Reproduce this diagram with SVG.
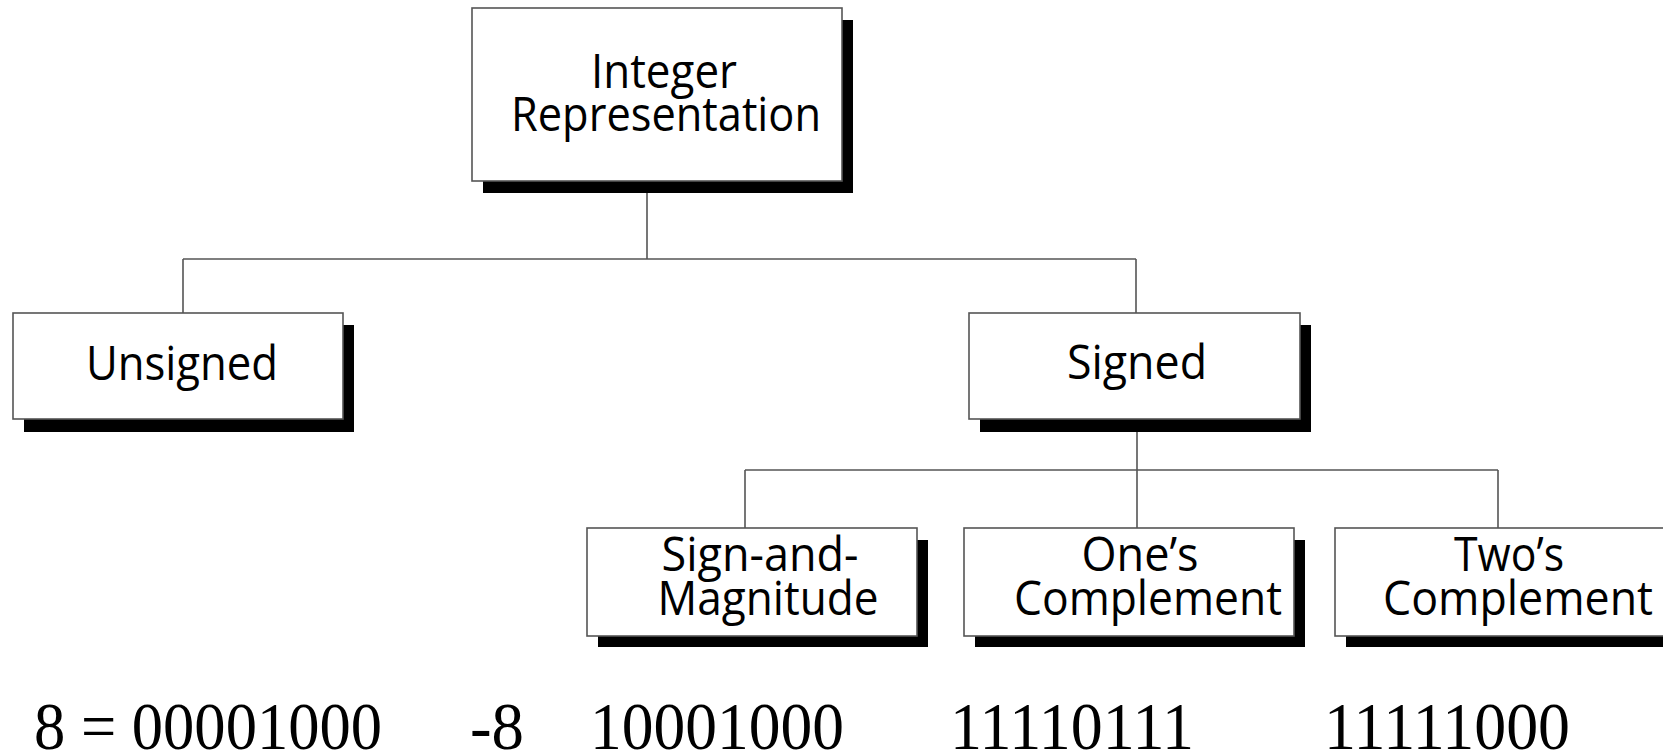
<svg xmlns="http://www.w3.org/2000/svg" width="1663" height="751" viewBox="0 0 1663 751">
  <style>
    .box { fill: #ffffff; stroke: #555555; stroke-width: 1.6; }
    .shadow { fill: #000000; }
    .wire { fill: none; stroke: #555555; stroke-width: 1.6; }
    .label { font-family: "Open Sans", "Noto Sans", "DejaVu Sans", sans-serif; font-size: 48px; fill: #000000; text-anchor: middle; }
    .code { font-family: "Liberation Serif", "Times New Roman", serif; font-size: 68px; fill: #000000; }
  </style>
  <rect width="1663" height="751" fill="#ffffff"/>

  <!-- tree connectors -->
  <g id="connectors">
    <path class="wire" d="M647 181 V259 M183 259 H1136 M183 259 V313 M1136 259 V313"/>
    <path class="wire" d="M1137 419 V470 M745 470 H1498 M745 470 V528 M1137 470 V528 M1498 470 V528"/>
  </g>

  <g id="node-integer">
    <rect class="shadow" x="483" y="20" width="370" height="173"/>
    <rect class="box" x="472" y="8" width="370" height="173"/>
    <text class="label" x="664" y="88" textLength="146" lengthAdjust="spacingAndGlyphs">Integer</text>
    <text class="label" x="666" y="131" textLength="310" lengthAdjust="spacingAndGlyphs">Representation</text>
  </g>

  <g id="node-unsigned">
    <rect class="shadow" x="24" y="325" width="330" height="107"/>
    <rect class="box" x="13" y="313" width="330" height="106"/>
    <text class="label" x="182" y="380" textLength="192" lengthAdjust="spacingAndGlyphs">Unsigned</text>
  </g>

  <g id="node-signed">
    <rect class="shadow" x="980" y="325" width="331" height="107"/>
    <rect class="box" x="969" y="313" width="331" height="106"/>
    <text class="label" x="1137" y="379" textLength="140" lengthAdjust="spacingAndGlyphs">Signed</text>
  </g>

  <g id="node-sign-magnitude">
    <rect class="shadow" x="598" y="540" width="330" height="107"/>
    <rect class="box" x="587" y="528" width="330" height="108"/>
    <text class="label" x="760" y="571" textLength="197" lengthAdjust="spacingAndGlyphs">Sign-and-</text>
    <text class="label" x="768" y="615" textLength="221" lengthAdjust="spacingAndGlyphs">Magnitude</text>
  </g>

  <g id="node-ones-complement">
    <rect class="shadow" x="975" y="540" width="330" height="107"/>
    <rect class="box" x="964" y="528" width="330" height="108"/>
    <text class="label" x="1140" y="571" textLength="117" lengthAdjust="spacingAndGlyphs">One’s</text>
    <text class="label" x="1148" y="615" textLength="268" lengthAdjust="spacingAndGlyphs">Complement</text>
  </g>

  <g id="node-twos-complement">
    <rect class="shadow" x="1346" y="540" width="330" height="107"/>
    <rect class="box" x="1335" y="528" width="330" height="108"/>
    <text class="label" x="1509" y="571" textLength="110" lengthAdjust="spacingAndGlyphs">Two’s</text>
    <text class="label" x="1518" y="615" textLength="270" lengthAdjust="spacingAndGlyphs">Complement</text>
  </g>

  <!-- 8-bit encodings of 8 and -8 -->
  <g id="codes">
    <text class="code" x="34" y="749" textLength="348" lengthAdjust="spacingAndGlyphs">8 = 00001000</text>
    <text class="code" x="470" y="749" textLength="54" lengthAdjust="spacingAndGlyphs">-8</text>
    <text class="code" x="590" y="749" textLength="254" lengthAdjust="spacingAndGlyphs">10001000</text>
    <text class="code" x="950" y="749" textLength="244" lengthAdjust="spacingAndGlyphs">11110111</text>
    <text class="code" x="1324" y="749" textLength="246" lengthAdjust="spacingAndGlyphs">11111000</text>
  </g>
</svg>
